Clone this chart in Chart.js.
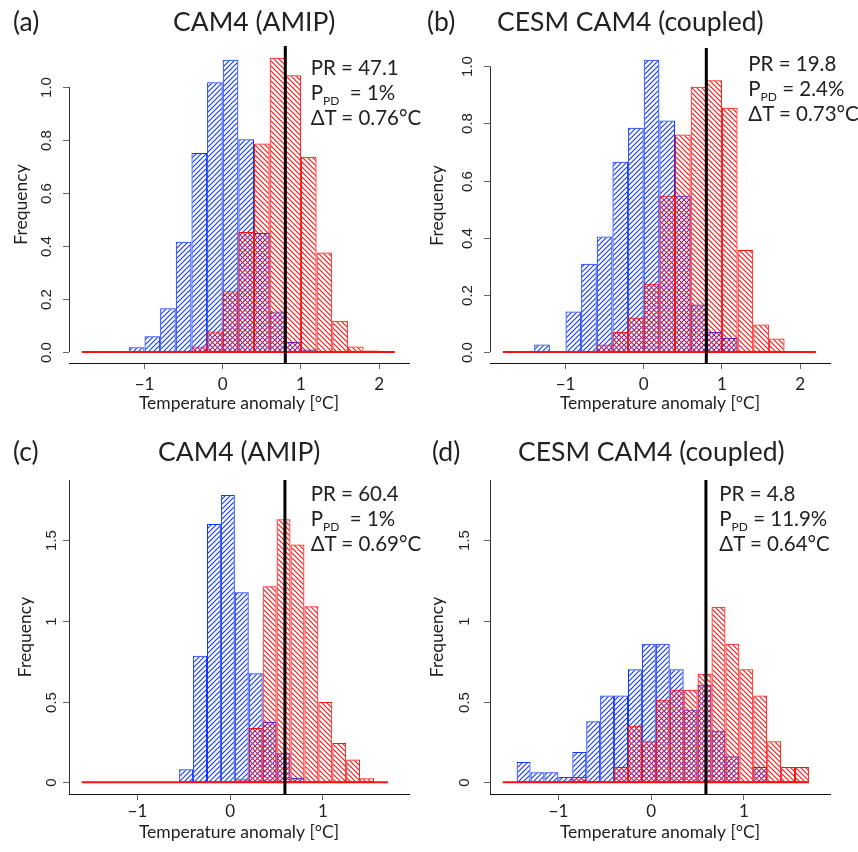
<!DOCTYPE html>
<html>
<head>
<meta charset="utf-8">
<script src="https://cdn.jsdelivr.net/npm/chart.js@4.4.1/dist/chart.umd.min.js"></script>
<style>
  body { margin: 0; background: #fff; }
  #fig { position: relative; width: 858px; height: 852px; overflow: hidden; font-family: Lato, sans-serif; color: #222; }
  #fig canvas { position: absolute; }
  .txt { position: absolute; white-space: nowrap; line-height: 1; }
  .ttl { font-size: 26.5px; }
  .stat { font-size: 20.5px; line-height: 25px; }
  .stat sub { font-size: 12px; vertical-align: -5px; line-height: 0; }
</style>
</head>
<body>
<div id="fig">
  <canvas id="chartA" width="429" height="426" style="left:0;top:0"></canvas>
  <canvas id="chartB" width="429" height="426" style="left:429px;top:0"></canvas>
  <canvas id="chartC" width="429" height="426" style="left:0;top:426px"></canvas>
  <canvas id="chartD" width="429" height="426" style="left:429px;top:426px"></canvas>
</div>
<script>
// ---------------- data ----------------
// bin centres (top row: 0.2 wide bins, bottom row: 0.15 wide bins)
const binsTop = [-1.7, -1.5, -1.3, -1.1, -0.9, -0.7, -0.5, -0.3, -0.1, 0.1,
  0.3, 0.5, 0.7, 0.9, 1.1, 1.3, 1.5, 1.7, 1.9, 2.1];
const binsBottom = [-1.525, -1.375, -1.225, -1.075, -0.925, -0.775, -0.625, -0.475,
  -0.325, -0.175, -0.025, 0.125, 0.275, 0.425, 0.575, 0.725, 0.875, 1.025,
  1.175, 1.325, 1.475, 1.625];
const rangeTop = [-1.8, 2.2];
const rangeBottom = [-1.6, 1.7];

// blue = natural, red = present day
const natA = [0, 0, 0.004, 0.018, 0.059, 0.165, 0.416, 0.751, 1.018, 1.103,
  0.803, 0.449, 0.153, 0.038, 0.009, 0, 0, 0, 0, 0];
const pdA = [0, 0, 0, 0, 0, 0, 0.003, 0.021, 0.077, 0.229,
  0.453, 0.787, 1.111, 1.045, 0.737, 0.376, 0.118, 0.021, 0.006, 0];
const natB = [0, 0, 0.026, 0, 0.142, 0.309, 0.404, 0.666, 0.785, 1.023,
  0.81, 0.547, 0.166, 0.07, 0.049, 0, 0, 0, 0, 0];
const pdB = [0, 0, 0, 0, 0, 0, 0.026, 0.07, 0.12, 0.239,
  0.547, 0.761, 0.928, 0.951, 0.855, 0.357, 0.096, 0.047, 0, 0];
const natC = [0, 0, 0, 0, 0, 0, 0, 0.082, 0.784, 1.6, 1.779,
  1.177, 0.676, 0.373, 0.181, 0.027, 0, 0, 0, 0, 0, 0];
const pdC = [0, 0, 0, 0, 0, 0, 0, 0, 0, 0, 0,
  0.019, 0.336, 1.214, 1.629, 1.472, 1.091, 0.497, 0.243, 0.142, 0.025, 0];
const natD = [0, 0.126, 0.062, 0.062, 0.033, 0.188, 0.379, 0.538, 0.538, 0.701, 0.858,
  0.858, 0.701, 0.449, 0.604, 0.32, 0.161, 0, 0.095, 0, 0, 0];
const pdD = [0, 0, 0, 0, 0, 0.033, 0, 0, 0.095, 0.351, 0.254,
  0.511, 0.573, 0.573, 0.672, 1.087, 0.858, 0.701, 0.538, 0.254, 0.095, 0.095];

const thresholds = [0.8, 0.8, 0.59, 0.59];

const xTicksTop = [-1, 0, 1, 2];
const xLabelsTop = ["\u22121", "0", "1", "2"];
const xTicksBottom = [-1, 0, 1];
const xLabelsBottom = ["\u22121", "0", "1"];
const yTicksTop = [0, 0.2, 0.4, 0.6, 0.8, 1.0];
const yLabelsTop = ["0.0", "0.2", "0.4", "0.6", "0.8", "1.0"];
const yTicksBottom = [0, 0.5, 1, 1.5];
const yLabelsBottom = ["0", "0.5", "1", "1.5"];

const panelLetters = ["(a)", "(b)", "(c)", "(d)"];
const panelNames = ["CAM4 (AMIP)", "CESM CAM4 (coupled)", "CAM4 (AMIP)", "CESM CAM4 (coupled)"];
const statPR = ["47.1", "19.8", "60.4", "4.8"];
const statPPD = ["1%", "2.4%", "1%", "11.9%"];
const statDT = ["0.76", "0.73", "0.69", "0.64"];

// ---------------- layout ----------------
const layouts = [
  { id: "chartA", bins: binsTop, range: rangeTop, nat: natA, pd: pdA, xTicks: xTicksTop, xLabels: xLabelsTop,
    yTicks: yTicksTop, yLabels: yLabelsTop, xLim: [-1.965, 2.381], yLim: [-0.0415, 1.155],
    pad: { left: 69, top: 46, right: 20 }, xAxisH: 63, xTickPad: 5, xTitleGap: 46, yLabelGap: 22.5, yTitleGap: 48, fullY: false,
    letter: [13, 32], name: [173, 32], stat: [310.7, 76], ppdGap: "&nbsp; " },
  { id: "chartB", bins: binsTop, range: rangeTop, nat: natB, pd: pdB, xTicks: xTicksTop, xLabels: xLabelsTop,
    yTicks: yTicksTop, yLabels: yLabelsTop, xLim: [-1.965, 2.381], yLim: [-0.0385, 1.064],
    pad: { left: 61, top: 48, right: 28 }, xAxisH: 63, xTickPad: 5, xTitleGap: 46, yLabelGap: 21.7, yTitleGap: 53, fullY: false,
    letter: [427, 32], name: [497, 32], stat: [748.3, 72], ppdGap: " " },
  { id: "chartC", bins: binsBottom, range: rangeBottom, nat: natC, pd: pdC, xTicks: xTicksBottom, xLabels: xLabelsBottom,
    yTicks: yTicksBottom, yLabels: yLabelsBottom, xLim: [-1.737, 1.927], yLim: [-0.072, 1.872],
    pad: { left: 69, top: 54, right: 20 }, xAxisH: 58, xTickPad: 1, xTitleGap: 44, yLabelGap: 17.6, yTitleGap: 44, fullY: true,
    letter: [13, 462], name: [158, 462], stat: [310.7, 502], ppdGap: "&nbsp; " },
  { id: "chartD", bins: binsBottom, range: rangeBottom, nat: natD, pd: pdD, xTicks: xTicksBottom, xLabels: xLabelsBottom,
    yTicks: yTicksBottom, yLabels: yLabelsBottom, xLim: [-1.737, 1.927], yLim: [-0.072, 1.872],
    pad: { left: 61, top: 54, right: 28 }, xAxisH: 58, xTickPad: 1, xTitleGap: 44, yLabelGap: 24.7, yTitleGap: 53, fullY: true,
    letter: [432, 462], name: [518, 462], stat: [719.3, 502], ppdGap: " " },
];

// hatch patterns
function hatch(color, step, rising) {
  const c = document.createElement("canvas");
  c.width = c.height = step;
  const g = c.getContext("2d");
  g.strokeStyle = color;
  g.lineWidth = 1.1;
  g.beginPath();
  if (rising) {
    g.moveTo(0, step); g.lineTo(step, 0);
    g.moveTo(-1, 1); g.lineTo(1, -1);
    g.moveTo(step - 1, step + 1); g.lineTo(step + 1, step - 1);
  } else {
    g.moveTo(0, 0); g.lineTo(step, step);
    g.moveTo(-1, step - 1); g.lineTo(1, step + 1);
    g.moveTo(step - 1, -1); g.lineTo(step + 1, 1);
  }
  g.stroke();
  return g.createPattern(c, "repeat");
}
const blue = "#1038ff";
const red = "#ff1010";
const blueHatch = hatch(blue, 5, true);
const redHatch = hatch(red, 5, false);

// R style y axis + axis titles
function rAxes(p) {
  return {
    id: "rAxes",
    afterDraw(chart) {
      const { ctx, chartArea: a } = chart;
      const y = chart.scales.y;
      ctx.save();
      ctx.strokeStyle = "#333";
      ctx.lineWidth = 1;
      const yb = p.fullY ? a.bottom : y.getPixelForValue(p.yTicks[0]);
      const yt = p.fullY ? a.top : y.getPixelForValue(p.yTicks[p.yTicks.length - 1]);
      ctx.beginPath();
      ctx.moveTo(a.left + 0.5, yb);
      ctx.lineTo(a.left + 0.5, yt);
      ctx.stroke();
      ctx.fillStyle = "#222";
      ctx.textAlign = "center";
      ctx.textBaseline = "middle";
      ctx.font = '15px "Liberation Sans", Arial, sans-serif';
      p.yTicks.forEach((v, i) => {
        const py = Math.round(y.getPixelForValue(v)) + 0.5;
        ctx.strokeStyle = "#666";
        ctx.beginPath();
        ctx.moveTo(a.left, py);
        ctx.lineTo(a.left - 6, py);
        ctx.stroke();
        ctx.save();
        ctx.translate(a.left - p.yLabelGap, py);
        ctx.rotate(-Math.PI / 2);
        ctx.fillText(p.yLabels[i], 0, 0);
        ctx.restore();
      });
      ctx.font = "17.5px Lato, sans-serif";
      ctx.save();
      ctx.translate(a.left - p.yTitleGap, (a.top + a.bottom) / 2);
      ctx.rotate(-Math.PI / 2);
      ctx.fillText("Frequency", 0, 0);
      ctx.restore();
      ctx.textBaseline = "alphabetic";
      ctx.fillText("Temperature anomaly [\u00b0C]", (a.left + a.right) / 2, a.bottom + p.xTitleGap);
      ctx.restore();
    },
  };
}

const barStyle = {
  type: "bar",
  borderWidth: 1,
  borderSkipped: false,
  grouped: false,
  barPercentage: 1,
  categoryPercentage: 1,
  inflateAmount: 0,
};

layouts.forEach((p, k) => {
  new Chart(document.getElementById(p.id), {
    type: "bar",
    data: {
      datasets: [
        {
          type: "line",
          data: [{ x: thresholds[k], y: p.yLim[0] }, { x: thresholds[k], y: p.yLim[1] }],
          borderColor: "#000",
          borderWidth: 3,
          pointRadius: 0,
          order: 0,
        },
        {
          type: "line",
          data: [{ x: p.range[0], y: 0 }, { x: p.range[1], y: 0 }],
          borderColor: red,
          borderWidth: 2,
          pointRadius: 0,
          order: 1,
        },
        {
          ...barStyle,
          data: p.bins.map((b, i) => ({ x: b, y: p.pd[i] })),
          backgroundColor: redHatch,
          borderColor: red,
          order: 2,
        },
        {
          ...barStyle,
          data: p.bins.map((b, i) => ({ x: b, y: p.nat[i] })),
          backgroundColor: blueHatch,
          borderColor: blue,
          order: 3,
        },
      ],
    },
    options: {
      responsive: false,
      animation: false,
      devicePixelRatio: 1,
      layout: { padding: { left: p.pad.left, top: p.pad.top, right: p.pad.right, bottom: 0 } },
      plugins: { legend: { display: false }, tooltip: { enabled: false } },
      scales: {
        x: {
          type: "linear",
          min: p.xLim[0],
          max: p.xLim[1],
          offset: false,
          afterBuildTicks: (s) => { s.ticks = p.xTicks.map((v) => ({ value: v })); },
          afterFit: (s) => { s.height = p.xAxisH; },
          grid: { display: true, drawOnChartArea: false, drawTicks: true, tickLength: 6, tickColor: "#666", offset: false },
          border: { display: true, color: "#111", width: 1 },
          ticks: {
            font: { family: "Lato", size: 17 },
            color: "#222",
            padding: p.xTickPad,
            maxRotation: 0,
            autoSkip: false,
            callback: (v, i) => p.xLabels[i],
          },
        },
        y: { display: false, min: p.yLim[0], max: p.yLim[1] },
      },
    },
    plugins: [rAxes(p)],
  });

  // panel text
  const fig = document.getElementById("fig");
  const add = (html, cls, x, base, lead) => {
    const d = document.createElement("div");
    d.className = "txt " + cls;
    d.innerHTML = html;
    d.style.left = x + "px";
    d.style.top = (base - lead) + "px";
    fig.appendChild(d);
  };
  add(panelLetters[k], "ttl", p.letter[0], p.letter[1], 0.887 * 26.5);
  add(panelNames[k], "ttl", p.name[0], p.name[1], 0.887 * 26.5);
  add("PR = " + statPR[k] + "<br>P<sub>PD</sub>" + p.ppdGap + "= " + statPPD[k] +
      "<br>\u0394T = " + statDT[k] + "\u00b0C", "stat", p.stat[0], p.stat[1], 20.7);
});
</script>
</body>
</html>
